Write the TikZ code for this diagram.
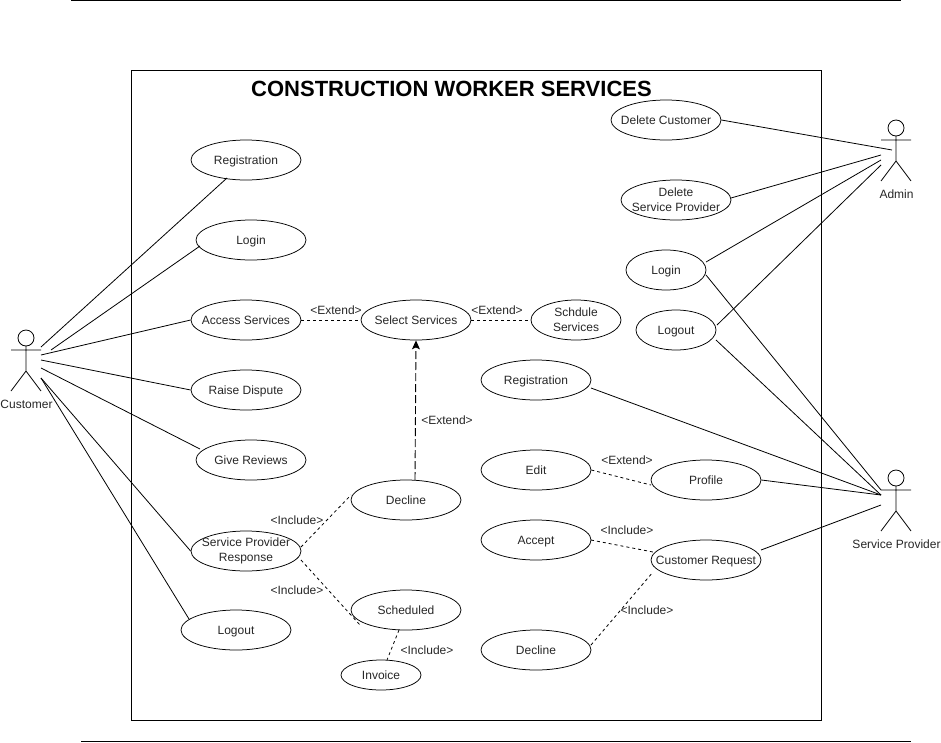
\documentclass[tikz,border=0pt]{standalone}
\usepackage{fontspec}
\setmainfont{Liberation Sans}
\usetikzlibrary{shapes.geometric,arrows.meta}
\begin{document}
\begin{tikzpicture}[x=1pt,y=-1pt,
  every node/.style={font=\fontsize{12}{15}\selectfont,text=black!85},
  ucbase/.style={draw=black,ellipse,minimum width=110pt,minimum height=40pt,inner xsep=-40pt,inner ysep=-20pt,line width=0.75pt},
  uc/.style={ucbase,text height=8.5pt,text depth=0pt},
  uctwo/.style={ucbase,align=center},
  link/.style={draw=black,line width=0.8pt},
  rel/.style={draw=black,line width=0.8pt,dash pattern=on 3pt off 3pt},
  lbl/.style={font=\fontsize{12}{14}\selectfont,inner sep=0pt},
  actorline/.style={draw=black,line width=0.8pt}]
\useasboundingbox (0,0) rectangle (941,742);
\draw[line width=0.8pt] (71,0.4) -- (901,0.4);
\draw[line width=0.8pt] (81,741) -- (911,741);
\draw[line width=0.8pt] (131.5,70.5) rectangle (821.5,720.5);
\node[font=\fontsize{22}{26}\selectfont\bfseries,text=black] (title) at (451.5,89) {CONSTRUCTION WORKER SERVICES};

% use cases
\node[uc] (reg) at (246,160) {Registration};
\node[uc] (login) at (251,240) {Login};
\node[uc] (access) at (246,320) {Access Services};
\node[uc] (dispute) at (246,390) {Raise Dispute};
\node[uc] (reviews) at (251,460) {Give Reviews};
\node[uctwo] (spr) at (246,551) {Service Provider\\Response};
\node[uc] (logout) at (236,630) {Logout};
\node[uc] (select) at (416,320) {Select Services};
\node[uctwo,minimum width=90pt] (sched) at (576,320) {Schdule\\Services};
\node[uc] (decl) at (406,500) {Decline};
\node[uc] (scheduled) at (406,610) {Scheduled};
\node[uc,minimum width=80pt,minimum height=30pt] (invoice) at (381,675) {Invoice};
\node[uc] (delc) at (666,120) {Delete Customer};
\node[uctwo] (dels) at (676,200) {Delete\\Service Provider};
\node[uc,minimum width=80pt] (alogin) at (666,270) {Login};
\node[uc,minimum width=80pt] (alogout) at (676,330) {Logout};
\node[uc] (sreg) at (536,380) {Registration};
\node[uc] (edit) at (536,470) {Edit};
\node[uc] (profile) at (706,480) {Profile};
\node[uc] (accept) at (536,540) {Accept};
\node[uc] (creq) at (706,560) {Customer Request};
\node[uc] (sdecl) at (536,650) {Decline};

% actors
\draw[actorline] (26,338) circle (8);
\draw[actorline] (11,350) -- (41,350) (26,346) -- (26,371) -- (11,391) (26,371) -- (41,391);
\node (custl) at (26.5,404) {Customer};
\draw[actorline] (896,128) circle (8);
\draw[actorline] (881,140) -- (911,140) (896,136) -- (896,161) -- (881,181) (896,161) -- (911,181);
\node (adminl) at (896.5,194) {Admin};
\draw[actorline] (896,478) circle (8);
\draw[actorline] (881,490) -- (911,490) (896,486) -- (896,511) -- (881,531) (896,511) -- (911,531);
\node (spl) at (896.5,544) {Service Provider};

% actor ports
\coordinate (c1) at (41,347);
\coordinate (c2) at (51,350);
\coordinate (c3) at (41,355);
\coordinate (c4) at (41,360);
\coordinate (c5) at (41,368);
\coordinate (c6) at (41,378);
\coordinate (a1) at (892,150);
\coordinate (a2) at (881,155);
\coordinate (a3) at (881,160);
\coordinate (a4) at (881,165);
\coordinate (s1) at (881,490);
\coordinate (s2) at (881,495);
\coordinate (s3) at (881,505);
\coordinate (lc1) at (227,178);
\coordinate (ll1) at (200,246);
\coordinate (lr1) at (200,449);
\coordinate (lo1) at (189,619);
\coordinate (ds1) at (731,198);
\coordinate (al1) at (706,262);
\coordinate (al2) at (706,275);
\coordinate (ao1) at (717,325);
\coordinate (ao2) at (716,340);
\coordinate (sr1) at (591,388);
\coordinate (cr1) at (761,550);

% customer links
\draw[link] (c1) -- (lc1);
\draw[link] (c2) -- (ll1);
\draw[link] (c3) -- (access.west);
\draw[link] (c4) -- (dispute.west);
\draw[link] (c5) -- (lr1);
\draw[link] (c6) -- (spr.west);
\draw[link] (c6) -- (lo1);
% admin links
\draw[link] (delc.east) -- (a1);
\draw[link] (ds1) -- (a2);
\draw[link] (al1) -- (a3);
\draw[link] (ao1) -- (a4);
% provider links
\draw[link] (al2) -- (s1);
\draw[link] (ao2) -- (s2);
\draw[link] (sr1) -- (s2);
\draw[link] (profile.east) -- (s2);
\draw[link] (cr1) -- (s3);

% dashed relations
\coordinate (d1) at (301,547);
\coordinate (d2) at (351,495);
\coordinate (d3) at (301,560);
\coordinate (d4) at (360,625);
\coordinate (d5) at (399,630);
\coordinate (d6) at (387,660);
\coordinate (d7) at (415,480);
\coordinate (d8) at (651,485);
\coordinate (d9) at (591,540);
\coordinate (d10) at (653,552);
\coordinate (d11) at (591,645);
\coordinate (d12) at (653,572);
\draw[rel] (access.east) -- (select.west);
\draw[rel] (select.east) -- (sched.west);
\draw[draw=black,line width=0.9pt,dash pattern=on 8pt off 3pt,-{Stealth[length=9pt,width=8pt,inset=2pt]}] (d7) -- (select.south);
\draw[rel] (d1) -- (d2);
\draw[rel] (d3) -- (d4);
\draw[rel] (d5) -- (d6);
\draw[rel] (edit.east) -- (d8);
\draw[rel] (d9) -- (d10);
\draw[rel] (d11) -- (d12);

% labels
\node[lbl] (t1) at (336,310) {<Extend>};
\node[lbl] (t2) at (497,310) {<Extend>};
\node[lbl] (t3) at (447,420) {<Extend>};
\node[lbl] (t4) at (297,520) {<Include>};
\node[lbl] (t5) at (297,590) {<Include>};
\node[lbl] (t6) at (427,650) {<Include>};
\node[lbl] (t7) at (627,460) {<Extend>};
\node[lbl] (t8) at (627,530) {<Include>};
\node[lbl] (t9) at (647,610) {<Include>};
\end{tikzpicture}
\end{document}
